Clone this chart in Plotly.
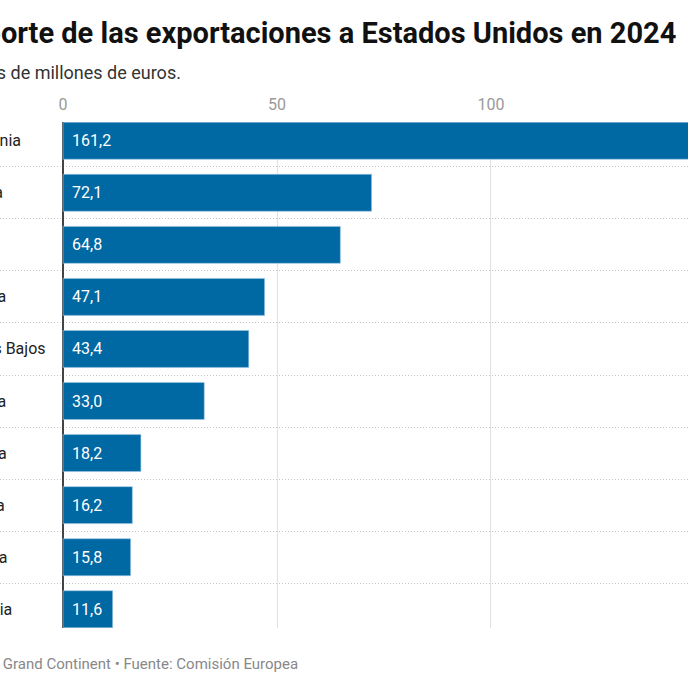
"""Bar chart: EU exports to the United States by country, 2024."""
import plotly.graph_objects as go

countries = [
    "Alemania", "Irlanda", "Italia", "Francia", "Países Bajos",
    "Bélgica", "España", "Austria", "Polonia", "Chequia",
]
values = [161.2, 72.1, 64.8, 47.1, 43.4, 33.0, 18.2, 16.2, 15.8, 11.6]
x_ticks = [0, 50, 100, 150]

title = "Importe de las exportaciones a Estados Unidos en 2024"
subtitle = "En miles de millones de euros."
footer = "Le Grand Continent • Fuente: Comisión Europea"

BLUE = "#0068a2"
FONT = "Roboto"

fig = go.Figure()
fig.add_trace(
    go.Bar(
        x=values,
        y=countries,
        orientation="h",
        width=0.71,
        marker=dict(color=BLUE, line=dict(color="#9cc6e4", width=0.6)),
        hoverinfo="skip",
    )
)

# value labels inside the bars, left aligned
for c, v in zip(countries, values):
    fig.add_annotation(
        x=0, y=c, xref="x", yref="y",
        text=f"{v:.1f}".replace(".", ","),
        xanchor="left", xshift=7, showarrow=False,
        font=dict(family=FONT, size=16, color="white"),
    )

# country names, left aligned in the margin (partly off the page)
for c in countries:
    fig.add_annotation(
        x=-48 / 688, y=c, xref="paper", yref="y",
        text=c, xanchor="left", showarrow=False,
        font=dict(family=FONT, size=16, color="#222222"),
    )

fig.add_annotation(
    x=-51 / 688, y=1.175, xref="paper", yref="paper",
    text=f"<b>{title}</b>", xanchor="left", yanchor="middle",
    showarrow=False, font=dict(family=FONT, size=29, color="#111111"),
)
fig.add_annotation(
    x=-64 / 688, y=1.098, xref="paper", yref="paper",
    text=subtitle, xanchor="left", yanchor="middle",
    showarrow=False, font=dict(family=FONT, size=18, color="#333333"),
)
fig.add_annotation(
    x=-19 / 688, y=-0.071, xref="paper", yref="paper",
    text=footer, xanchor="left", yanchor="middle",
    showarrow=False, font=dict(family=FONT, size=15, color="#888888"),
)

fig.update_layout(
    width=688,
    height=688,
    margin=dict(l=0, r=0, t=122, b=60),
    plot_bgcolor="white",
    paper_bgcolor="white",
    showlegend=False,
    font=dict(family=FONT),
    xaxis=dict(
        side="top",
        range=[-14.72, 146.03],
        tickvals=x_ticks,
        showgrid=True,
        gridcolor="#e0e0e0",
        gridwidth=1,
        zeroline=True,
        zerolinecolor="#444444",
        zerolinewidth=2,
        ticks="outside",
        ticklen=5,
        tickcolor="rgba(0,0,0,0)",
        tickfont=dict(family=FONT, size=16, color="#999999"),
        showline=False,
        fixedrange=True,
    ),
    yaxis=dict(
        categoryorder="array",
        categoryarray=countries,
        range=[9.36, -0.36],
        tickson="boundaries",
        showgrid=True,
        gridcolor="#c4c4c4",
        griddash="1px,2px",
        gridwidth=1,
        showticklabels=False,
        ticks="",
        zeroline=False,
        fixedrange=True,
    ),
)

fig.write_html(
    "out.html",
    config={"displayModeBar": False},
    post_script="document.body.style.margin='0';",
)
